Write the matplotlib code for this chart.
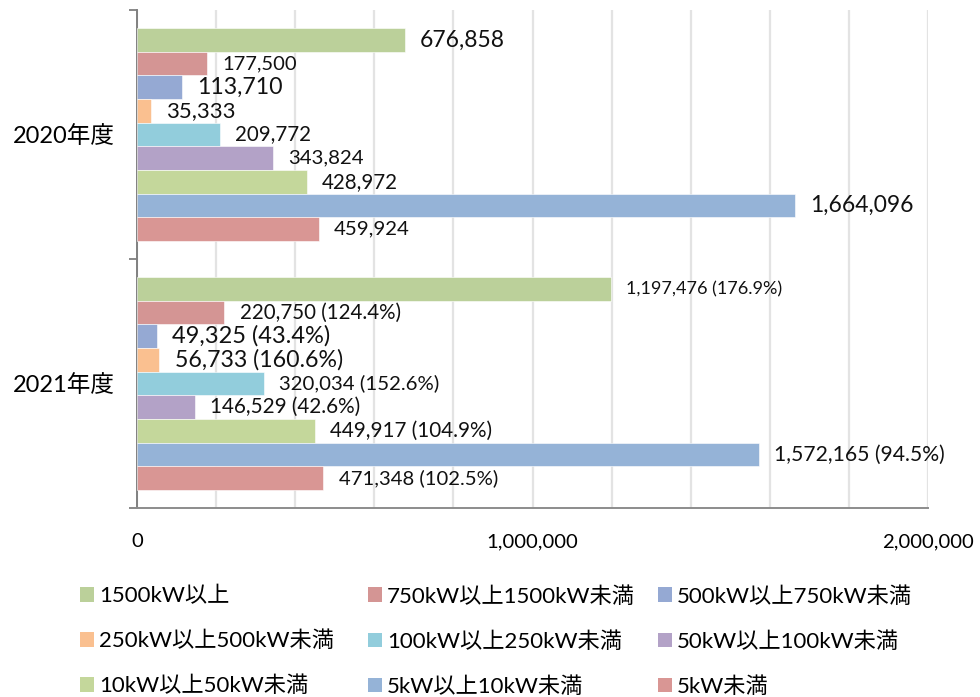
import numpy as np
import matplotlib.pyplot as plt
from matplotlib.patches import Patch

plt.rcParams['font.family'] = ['Lato', 'Noto Sans CJK JP', 'DejaVu Sans']

# Data
years = ['2020年度', '2021年度']
series = ['1500kW以上', '750kW以上1500kW未満', '500kW以上750kW未満',
          '250kW以上500kW未満', '100kW以上250kW未満', '50kW以上100kW未満',
          '10kW以上50kW未満', '5kW以上10kW未満', '5kW未満']
values_2020 = [676858, 177500, 113710, 35333, 209772, 343824, 428972, 1664096, 459924]
values_2021 = [1197476, 220750, 49325, 56733, 320034, 146529, 449917, 1572165, 471348]

colors = ['#BBD09A', '#D49594', '#95A9D3', '#FAC090', '#92CDDC',
          '#B3A2C7', '#C4D79B', '#95B3D7', '#D99694']

# label font sizes (pt) as seen in the original
sizes_2020 = [16.5, 14.5, 16.7, 16, 14.8, 14.7, 14.8, 16.5, 14.7]
sizes_2021 = [13, 14.8, 17, 16.7, 14.7, 14.9, 14.9, 15.2, 14.6]

fig = plt.figure(figsize=(9.8, 6.97), dpi=100)
ax = fig.add_axes([137 / 980, 1 - 508 / 697, (928 - 137) / 980, (508 - 10) / 697])

n = len(series)
bar_h = 0.855 / n
y_pos = np.arange(len(years))

for i, name in enumerate(series):
    offset = (i - (n - 1) / 2) * bar_h
    vals = [values_2020[i], values_2021[i]]
    ax.barh(y_pos + offset, vals, height=bar_h, color=colors[i],
            edgecolor='white', linewidth=0.4, label=name, zorder=3)
    # 2020 labels
    ax.annotate(f'{values_2020[i]:,}', (values_2020[i], y_pos[0] + offset),
                xytext=(11, 0), textcoords='offset points',
                va='center', ha='left', fontsize=sizes_2020[i], color='#111111')
    pct = values_2021[i] / values_2020[i] * 100
    ax.annotate(f'{values_2021[i]:,} ({pct:.1f}%)', (values_2021[i], y_pos[1] + offset),
                xytext=(11, 0), textcoords='offset points',
                va='center', ha='left', fontsize=sizes_2021[i], color='#111111')

ax.set_ylim(1.5, -0.5)
ax.set_xlim(0, 2000000)

ax.set_yticks(y_pos)
ax.set_yticklabels(years, fontsize=17)
ax.set_yticks([-0.5, 0.5, 1.5], minor=True)
ax.tick_params(axis='y', which='major', length=0, pad=16)
ax.tick_params(axis='y', which='minor', length=6, width=1.3, color='#808080', direction='out')

grid_x = np.arange(0, 2000001, 200000)
ax.set_xticks(grid_x)
ax.set_xticklabels([f'{v:,}' if v % 1000000 == 0 else '' for v in grid_x], fontsize=14.6)
ax.tick_params(axis='x', length=0, pad=18)
ax.grid(axis='x', color='#E3E3E3', linewidth=1.6, zorder=0)
ax.set_axisbelow(True)

for s in ['top', 'right']:
    ax.spines[s].set_visible(False)
ax.spines['left'].set_color('#808080')
ax.spines['left'].set_linewidth(1.4)
ax.spines['bottom'].set_color('#8C8C8C')
ax.spines['bottom'].set_linewidth(1.4)

# legend: three columns, filled row by row
handles = [Patch(facecolor=c, edgecolor='none') for c in colors]
col_x = [80, 368, 658]
for c in range(3):
    idx = [c, c + 3, c + 6]
    fig.legend([handles[k] for k in idx], [series[k] for k in idx],
               loc='upper left', bbox_to_anchor=(col_x[c] / 980, 1 - 586 / 697),
               frameon=False, handlelength=0.65, handleheight=0.65,
               handletextpad=0.2, labelspacing=1.1, borderpad=0.0,
               borderaxespad=0.0,
               prop={'family': ['Lato', 'Noto Sans CJK JP'], 'size': 16})

fig.savefig('out.png', dpi=100)
